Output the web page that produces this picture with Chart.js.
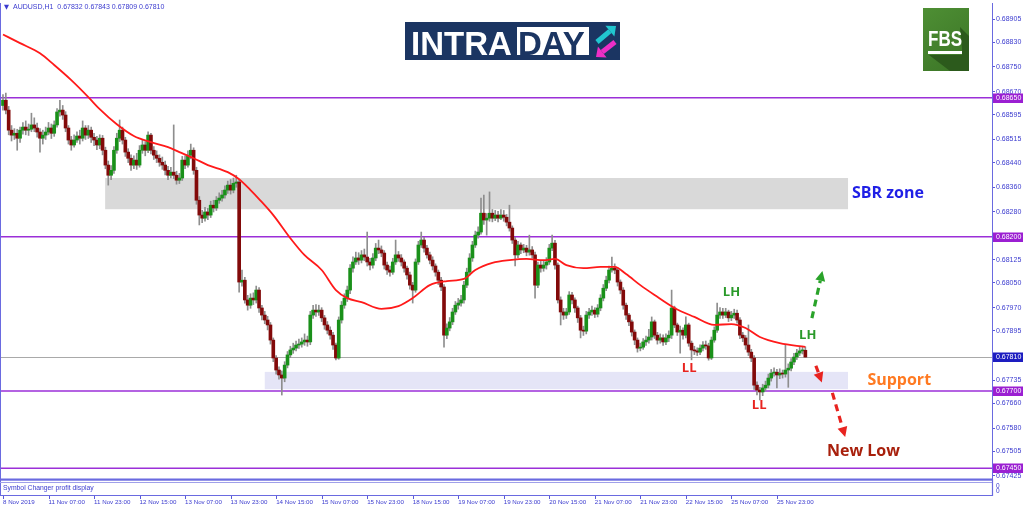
<!DOCTYPE html>
<html><head><meta charset="utf-8">
<script src="https://cdn.jsdelivr.net/npm/chart.js@4.4.1/dist/chart.umd.min.js"></script>
<style>html,body{margin:0;padding:0;background:#fff;overflow:hidden}#wrap{width:1024px;height:511px;position:relative}</style>
</head><body><div id="wrap"><canvas id="c" width="1024" height="511"></canvas></div>
<script>
// ---- DATA (prices in 1e-5 units, H1 bars of AUDUSD) ----
const OPEN=[68625,68642,68610,68545,68529,68535,68519,68545,68555,68545,
68548,68562,68552,68539,68519,68529,68539,68552,68535,68562,
68604,68610,68594,68552,68513,68497,68513,68526,68519,68552,
68529,68545,68522,68513,68497,68519,68480,68432,68399,68415,
68480,68519,68545,68513,68474,68454,68432,68448,68432,68480,
68497,68480,68529,68480,68464,68454,68441,68432,68415,68399,
68409,68399,68383,68390,68448,68432,68464,68480,68415,68318,
68270,68260,68280,68270,68302,68293,68318,68325,68335,68351,
68367,68351,68373,68377,68053,68059,67995,67978,68001,67995,
68027,67969,67946,67930,67914,67865,67807,67768,67752,67742,
67784,67817,67833,67839,67849,67852,67859,67865,67859,67946,
67962,67956,67962,67937,67914,67897,67881,67849,67807,67930,
67978,68001,68027,68098,68118,68131,68124,68141,68134,68118,
68108,68131,68163,68157,68147,68108,68092,68085,68118,68141,
68131,68118,68098,68076,68043,68027,68118,68173,68189,68163,
68141,68124,68105,68085,68059,68037,67881,67904,67924,67956,
67978,67985,67995,68043,68085,68131,68173,68205,68215,68276,
68254,68260,68276,68260,68270,68260,68270,68263,68247,68228,
68189,68141,68173,68157,68163,68150,68157,68141,68043,68108,
68098,68108,68118,68163,68179,68108,67995,67956,67946,67956,
68011,67995,67969,67937,67897,67894,67946,67956,67962,67949,
67969,68001,68033,68059,68092,68098,68092,68053,68027,67978,
67946,67924,67891,67865,67839,67842,67859,67865,67875,67924,
67881,67865,67872,67859,67872,67881,67969,67914,67891,67897,
67881,67914,67855,67833,67830,67826,67839,67849,67846,67807,
67865,67897,67946,67956,67946,67956,67937,67946,67952,67930,
67881,67872,67849,67826,67807,67719,67703,67697,67710,67719,
67742,67758,67761,67752,67758,67755,67768,67774,67794,67810,
67823,67830,67832];
const HIGH=[68660,68665,68622,68560,68550,68548,68555,68570,68575,68565,
68600,68585,68568,68550,68545,68555,68570,68565,68575,68615,
68642,68625,68605,68560,68525,68530,68540,68545,68575,68560,
68560,68555,68535,68525,68530,68528,68490,68445,68430,68492,
68535,68578,68555,68522,68485,68465,68462,68470,68495,68515,
68508,68540,68535,68492,68478,68465,68458,68445,68428,68425,
68562,68412,68405,68460,68462,68478,68500,68488,68425,68330,
68285,68295,68292,68315,68318,68330,68342,68350,68365,68380,
68385,68390,68399,68385,68092,68068,68010,68015,68018,68040,
68035,67978,67958,67942,67922,67872,67815,67778,67765,67795,
67828,67845,67855,67862,67868,67872,67885,67878,67958,67978,
67980,67978,67970,67945,67925,67908,67890,67855,67940,67990,
68015,68040,68110,68135,68150,68148,68155,68160,68215,68130,
68145,68178,68189,68170,68155,68118,68105,68130,68189,68152,
68142,68125,68105,68085,68052,68128,68185,68215,68198,68172,
68150,68135,68112,68092,68068,68045,67918,67938,67968,67990,
68000,68010,68055,68098,68145,68185,68218,68232,68325,68335,
68275,68345,68288,68285,68282,68288,68285,68272,68302,68235,
68198,68185,68180,68175,68172,68205,68168,68150,68118,68120,
68122,68132,68175,68205,68188,68115,68005,67968,67968,68022,
68020,68002,67975,67945,67910,67958,67968,67975,67970,67980,
68012,68045,68072,68105,68134,68112,68100,68060,68035,67985,
67952,67930,67898,67872,67855,67870,67878,67900,67940,67930,
67890,67885,67882,67885,67895,68027,67975,67920,67910,67905,
67940,67920,67862,67845,67840,67850,67860,67862,67855,67875,
67908,67985,67970,67968,67968,67962,67958,67965,67962,67938,
67890,67880,67914,67835,67815,67730,67712,67722,67732,67755,
67770,67775,67770,67772,67768,67849,67788,67805,67822,67835,
67842,67845,67843];
const LOW=[68610,68598,68530,68510,68515,68480,68505,68532,68530,68528,
68540,68540,68522,68474,68500,68515,68530,68518,68525,68555,
68590,68580,68540,68500,68480,68490,68505,68500,68510,68515,
68518,68505,68495,68482,68485,68465,68420,68367,68385,68405,
68470,68508,68500,68460,68440,68415,68420,68418,68425,68470,
68462,68472,68468,68450,68440,68428,68418,68400,68385,68390,
68388,68370,68372,68382,68420,68425,68452,68402,68305,68238,
68245,68250,68255,68262,68280,68285,68308,68315,68325,68340,
68338,68342,68360,68020,68040,67985,67962,67968,67980,67985,
67955,67930,67918,67898,67852,67795,67755,67738,67687,67730,
67775,67808,67822,67830,67838,67842,67848,67845,67850,67935,
67942,67945,67925,67900,67885,67868,67835,67801,67803,67920,
67968,67990,68015,68085,68110,68110,68115,68122,68105,68092,
68098,68122,68145,68135,68095,68078,68072,68078,68110,68120,
68105,68085,68062,68030,67985,68020,68110,68165,68150,68130,
68112,68092,68072,68045,68025,67842,67870,67895,67915,67948,
67965,67975,67985,68035,68075,68120,68165,68195,68208,68240,
68205,68250,68248,68252,68248,68255,68250,68235,68218,68178,
68105,68132,68145,68148,68138,68140,68130,68001,68035,68085,
68088,68095,68110,68155,68095,67985,67914,67932,67935,67948,
67982,67955,67922,67872,67880,67885,67935,67945,67938,67940,
67960,67992,68025,68050,68085,68080,68040,68015,67965,67932,
67912,67878,67850,67826,67830,67835,67848,67855,67865,67870,
67852,67855,67848,67850,67860,67870,67905,67880,67823,67868,
67872,67845,67801,67818,67815,67818,67830,67835,67800,67802,
67858,67890,67935,67935,67938,67925,67928,67935,67920,67870,
67860,67835,67815,67795,67705,67687,67671,67685,67700,67710,
67732,67748,67710,67740,67742,67745,67712,67765,67785,67802,
67815,67820,67809];
const CLOSE=[68642,68610,68545,68529,68535,68519,68545,68555,68545,68548,
68562,68552,68539,68519,68529,68539,68552,68535,68562,68604,
68610,68594,68552,68513,68497,68513,68526,68519,68552,68529,
68545,68522,68513,68497,68519,68480,68432,68399,68415,68480,
68519,68545,68513,68474,68454,68432,68448,68432,68480,68497,
68480,68529,68480,68464,68454,68441,68432,68415,68399,68409,
68399,68383,68390,68448,68432,68464,68480,68415,68318,68270,
68260,68280,68270,68302,68293,68318,68325,68335,68351,68367,
68351,68373,68377,68053,68059,67995,67978,68001,67995,68027,
67969,67946,67930,67914,67865,67807,67768,67752,67742,67784,
67817,67833,67839,67849,67852,67859,67865,67859,67946,67962,
67956,67962,67937,67914,67897,67881,67849,67807,67930,67978,
68001,68027,68098,68118,68131,68124,68141,68134,68118,68108,
68131,68163,68157,68147,68108,68092,68085,68118,68141,68131,
68118,68098,68076,68043,68027,68118,68173,68189,68163,68141,
68124,68105,68085,68059,68037,67881,67904,67924,67956,67978,
67985,67995,68043,68085,68131,68173,68205,68215,68276,68254,
68260,68276,68260,68270,68260,68270,68263,68247,68228,68189,
68141,68173,68157,68163,68150,68157,68141,68043,68108,68098,
68108,68118,68163,68179,68108,67995,67956,67946,67956,68011,
67995,67969,67937,67897,67894,67946,67956,67962,67949,67969,
68001,68033,68059,68092,68098,68092,68053,68027,67978,67946,
67924,67891,67865,67839,67842,67859,67865,67875,67924,67881,
67865,67872,67859,67872,67881,67969,67914,67891,67897,67881,
67914,67855,67833,67830,67826,67839,67849,67846,67807,67865,
67897,67946,67956,67946,67956,67937,67946,67952,67930,67881,
67872,67849,67826,67807,67719,67703,67697,67710,67719,67742,
67758,67761,67752,67758,67755,67768,67774,67794,67810,67823,
67830,67832,67810];
// moving average read at selected bars
const maBars=[0,6,13,18,24,30,34,40,46,52,58,62,67,72,79,83,87,90,95,101,106,112,117,121,126,133,139,144,150,156,162,166,172,178,184,190,194,198,204,210,215,219,224,229,236,243,250,256,261,266,273,282];
const maValues=[68855,68827,68794,68756,68707,68652,68613,68564,68526,68506,68490,68474,68454,68432,68409,68386,68351,68322,68270,68195,68140,68092,68027,68001,67988,67966,67975,68001,68043,68056,68063,68092,68115,68124,68128,68124,68128,68108,68098,68102,68102,68079,68043,68011,67969,67940,67914,67917,67904,67875,67855,67843];
const priceTicks=[0.68905,0.68830,0.68750,0.68670,0.68595,0.68515,0.68440,0.68360,0.68280,0.68125,0.68050,0.67970,0.67895,0.67735,0.67660,0.67580,0.67505,0.67425];
const timeTickBars=[0,16,32,48,64,80,96,112,128,144,160,176,192,208,224,240,256,272];
const timeLabels=['8 Nov 2019','11 Nov 07:00','11 Nov 23:00','12 Nov 15:00','13 Nov 07:00','13 Nov 23:00','14 Nov 15:00','15 Nov 07:00','15 Nov 23:00','18 Nov 15:00','19 Nov 07:00','19 Nov 23:00','20 Nov 15:00','21 Nov 07:00','21 Nov 23:00','22 Nov 15:00','25 Nov 07:00','25 Nov 23:00'];
const levelLines=[0.68650,0.68200,0.67700,0.67450];
const currentPrice=0.67810;
const sbrZone={from:35.9,to:297,hi:0.68390,lo:0.68289};
const supportZone={from:92,to:297,hi:0.67762,lo:0.67706};
const notes=[
 {text:'SBR zone',bar:298.4,price:0.68340,color:'#1f1fe6',size:16},
 {text:'Support',bar:303.8,price:0.67733,color:'#ff7a22',size:16},
 {text:'New Low',bar:289.6,price:0.67505,color:'#a8200c',size:16},
 {text:'LH',bar:253.0,price:0.68021,color:'#2a9a2a',size:13},
 {text:'LH',bar:279.8,price:0.67882,color:'#2a9a2a',size:13},
 {text:'LL',bar:238.6,price:0.67775,color:'#e8231f',size:13},
 {text:'LL',bar:263.2,price:0.67655,color:'#e8231f',size:13}
];
const arrows=[
 {from:[284.3,0.67936],to:[288.0,0.68089],color:'#2aa32a'},
 {from:[285.7,0.67782],to:[287.8,0.67728],color:'#e8231f'},
 {from:[291.5,0.67694],to:[296.0,0.67551],color:'#e8231f'}
];

const bars=CLOSE.map((_,i)=>i);
const SC=1e5;
const FONT='"Liberation Sans", Arial, "DejaVu Sans", sans-serif';
const AXC='#3b3bcf';

function dashedArrow(ctx,x1,y1,x2,y2,color){
  const ang=Math.atan2(y2-y1,x2-x1);
  const hl=10;
  const bx=x2-Math.cos(ang)*hl, by=y2-Math.sin(ang)*hl;
  ctx.save();
  ctx.strokeStyle=color;ctx.lineWidth=3.2;ctx.setLineDash([7,5]);
  ctx.beginPath();ctx.moveTo(x1,y1);ctx.lineTo(bx,by);ctx.stroke();
  ctx.setLineDash([]);
  ctx.fillStyle=color;ctx.beginPath();
  ctx.moveTo(x2,y2);
  ctx.lineTo(bx+Math.cos(ang+Math.PI/2)*5,by+Math.sin(ang+Math.PI/2)*5);
  ctx.lineTo(bx+Math.cos(ang-Math.PI/2)*5,by+Math.sin(ang-Math.PI/2)*5);
  ctx.closePath();ctx.fill();
  ctx.restore();
}

const overlay={
  id:'overlay',
  beforeDatasetsDraw(chart){
    const {ctx,chartArea:a,scales:{x,y}}=chart;
    ctx.save();
    ctx.beginPath();ctx.rect(a.left,a.top,a.right-a.left,a.bottom-a.top);ctx.clip();
    [[sbrZone,'#d9d9d9'],[supportZone,'#e5e5f7']].forEach(([z,c])=>{
      const x1=x.getPixelForValue(z.from),x2=x.getPixelForValue(z.to);
      const y1=y.getPixelForValue(z.hi),y2=y.getPixelForValue(z.lo);
      ctx.fillStyle=c;ctx.fillRect(x1,y1,x2-x1,y2-y1);
    });
    ctx.strokeStyle='#a9a9a9';ctx.lineWidth=1;
    const yc=Math.round(y.getPixelForValue(currentPrice))+0.5;
    ctx.beginPath();ctx.moveTo(a.left,yc);ctx.lineTo(a.right,yc);ctx.stroke();
    ctx.strokeStyle='#9b2fd8';ctx.lineWidth=1.6;
    levelLines.forEach(v=>{
      const yy=y.getPixelForValue(v);
      ctx.beginPath();ctx.moveTo(a.left,yy);ctx.lineTo(a.right,yy);ctx.stroke();
    });
    ctx.restore();
  },
  afterDraw(chart){
    const {ctx,chartArea:a,scales:{x,y}}=chart;
    const W=chart.width;
    ctx.save();
    // frame
    ctx.strokeStyle='#6a6ae0';ctx.lineWidth=1;
    ctx.beginPath();ctx.moveTo(0.5,a.top);ctx.lineTo(0.5,a.bottom+17);ctx.stroke();
    ctx.fillStyle='#6a6ae0';ctx.fillRect(0,a.bottom-0.5,a.right+1,2.2);
    ctx.strokeStyle='#a0a0ea';ctx.beginPath();ctx.moveTo(0,a.bottom+3.5);ctx.lineTo(a.right,a.bottom+3.5);ctx.stroke();
    ctx.strokeStyle='#6a6ae0';ctx.lineWidth=1.2;
    ctx.beginPath();ctx.moveTo(0,a.bottom+16.5);ctx.lineTo(a.right,a.bottom+16.5);ctx.stroke();
    ctx.beginPath();ctx.moveTo(a.right+0.5,a.bottom);ctx.lineTo(a.right+0.5,a.bottom+17);ctx.stroke();
    // subwindow text
    ctx.fillStyle=AXC;ctx.font='6.8px '+FONT;ctx.textBaseline='middle';ctx.textAlign='left';
    ctx.fillText('Symbol Changer profit display',3,a.bottom+9);
    ctx.font='6.5px '+FONT;
    ctx.fillText('0',a.right+4,a.bottom+7);ctx.fillText('0',a.right+4,a.bottom+12);
    // time tick marks
    ctx.strokeStyle='#5a5ad8';ctx.lineWidth=1;
    timeTickBars.forEach(b=>{const xx=Math.round(x.getPixelForValue(b))+0.5;
      ctx.beginPath();ctx.moveTo(xx,a.bottom+17);ctx.lineTo(xx,a.bottom+20);ctx.stroke();});
    // price boxes
    ctx.font='7px '+FONT;
    const box=(v,bg)=>{const yy=Math.round(y.getPixelForValue(v));
      ctx.fillStyle=bg;ctx.fillRect(a.right+1,yy-4.5,W-a.right-2,9.5);
      ctx.fillStyle='#ffffff';ctx.textBaseline='middle';ctx.fillText(v.toFixed(5),a.right+4,yy+0.5);};
    levelLines.forEach(v=>box(v,'#9b1fd2'));
    box(currentPrice,'#1d1dc0');
    // header
    ctx.fillStyle=AXC;ctx.font='6.5px "DejaVu Sans", sans-serif';ctx.textBaseline='middle';
    ctx.fillText('▼',4,7.5);
    ctx.font='7px '+FONT;
    const n=CLOSE.length-1;
    ctx.fillText('AUDUSD,H1  '+[OPEN[n],HIGH[n],LOW[n],CLOSE[n]].map(v=>(v/SC).toFixed(5)).join(' '),13,7.5);
    // notes
    notes.forEach(t=>{ctx.fillStyle=t.color;ctx.font='bold '+t.size+'px "Open Sans", '+FONT;
      ctx.textAlign='left';ctx.textBaseline='middle';
      ctx.fillText(t.text,x.getPixelForValue(t.bar),y.getPixelForValue(t.price));});
    arrows.forEach(r=>dashedArrow(ctx,x.getPixelForValue(r.from[0]),y.getPixelForValue(r.from[1]),x.getPixelForValue(r.to[0]),y.getPixelForValue(r.to[1]),r.color));
    // INTRADAY logo
    ctx.fillStyle='#1b3562';ctx.fillRect(405,22,215,38);
    ctx.fillStyle='#ffffff';ctx.fillRect(517,27,72,28);
    ctx.font='bold 33px '+FONT;ctx.textBaseline='alphabetic';
    ctx.fillStyle='#ffffff';ctx.fillText('INTRA',411,54.5);
    ctx.fillStyle='#1b3562';ctx.fillText('DAY',518,54.5);
    const arr=(x1,y1,x2,y2,c)=>{const ang=Math.atan2(y2-y1,x2-x1);ctx.strokeStyle=c;ctx.fillStyle=c;ctx.lineWidth=5;
      const bx=x2-Math.cos(ang)*8,by=y2-Math.sin(ang)*8;
      ctx.beginPath();ctx.moveTo(x1,y1);ctx.lineTo(bx,by);ctx.stroke();
      ctx.beginPath();ctx.moveTo(x2,y2);ctx.lineTo(bx+Math.cos(ang+Math.PI/2)*7,by+Math.sin(ang+Math.PI/2)*7);
      ctx.lineTo(bx+Math.cos(ang-Math.PI/2)*7,by+Math.sin(ang-Math.PI/2)*7);ctx.closePath();ctx.fill();};
    arr(597,42,616,26,'#21c6cf');
    arr(615,42,596,57,'#ee2fc6');
    // FBS logo
    const g=ctx.createLinearGradient(923,8,969,71);g.addColorStop(0,'#4e8f34');g.addColorStop(1,'#3b7426');
    ctx.fillStyle=g;ctx.fillRect(923,8,46,63);
    ctx.fillStyle='#2c5a1c';ctx.beginPath();ctx.moveTo(960,27);ctx.lineTo(969,36);ctx.lineTo(969,71);ctx.lineTo(950,71);ctx.lineTo(929,55);ctx.lineTo(962,55);ctx.lineTo(962,48);ctx.closePath();ctx.fill();
    ctx.fillStyle='#ffffff';ctx.font='bold 22px '+FONT;
    ctx.save();ctx.translate(928,46);const tw=ctx.measureText('FBS').width;ctx.scale(34/tw,1);ctx.fillText('FBS',0,0);ctx.restore();
    ctx.fillRect(928,51,34,3);
    ctx.restore();
  }
};

new Chart(document.getElementById('c'),{
  type:'bar',
  data:{datasets:[
    {type:'line',label:'MA',data:maBars.map((b,k)=>({x:b,y:maValues[k]/SC})),borderColor:'#ff1a1a',borderWidth:1.8,pointRadius:0,cubicInterpolationMode:'monotone',order:1},
    {label:'body',data:bars.map(i=>({x:i,y:[OPEN[i]/SC,CLOSE[i]/SC]})),backgroundColor:bars.map(i=>CLOSE[i]>=OPEN[i]?'#1a901a':'#820a0a'),barThickness:3,minBarLength:1,grouped:false,borderWidth:0,order:2},
    {label:'wick',data:bars.map(i=>({x:i,y:[LOW[i]/SC,HIGH[i]/SC]})),backgroundColor:'#8e8e8e',barThickness:1,grouped:false,borderWidth:0,order:3}
  ]},
  options:{
    responsive:false,animation:false,devicePixelRatio:1,
    layout:{padding:{top:3,left:0,right:0,bottom:0}},
    plugins:{legend:{display:false},tooltip:{enabled:false}},
    scales:{
      x:{type:'linear',min:-1.05,max:347.6,offset:false,
        grid:{display:false,drawTicks:false},border:{display:false},
        afterBuildTicks:s=>{s.ticks=timeTickBars.map(v=>({value:v}));},
        ticks:{autoSkip:false,maxRotation:0,align:'start',padding:20,color:AXC,font:{family:FONT,size:6.2},
          callback:(v,i)=>timeLabels[i]},
        afterFit:s=>{s.height=32;s.paddingLeft=0;s.paddingRight=0;}},
      y:{position:'right',min:0.67415,max:0.68957,
        grid:{drawOnChartArea:false,tickLength:3,tickColor:'#5a5ad8'},border:{color:'#6a6ae0',width:1},
        afterBuildTicks:s=>{s.ticks=priceTicks.map(v=>({value:v}));},
        ticks:{autoSkip:false,padding:1,color:AXC,font:{family:FONT,size:7},callback:v=>Number(v).toFixed(5)},
        afterFit:s=>{s.width=32;s.paddingTop=0;s.paddingBottom=0;}}
    }
  },
  plugins:[overlay]
});
</script></body></html>
